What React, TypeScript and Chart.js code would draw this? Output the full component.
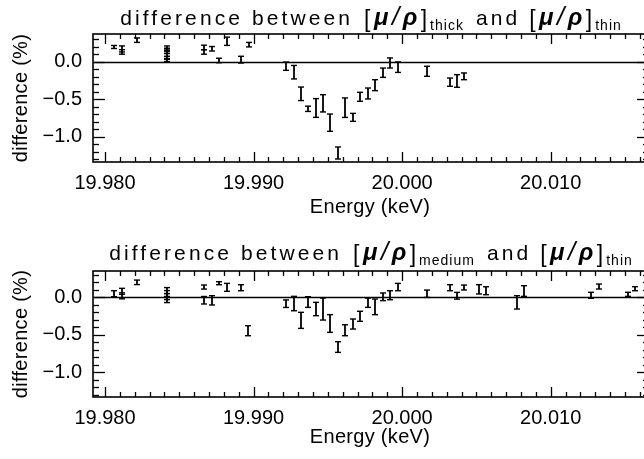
import React, { useEffect, useRef } from "react";
import { Chart, registerables } from "chart.js";

Chart.register(...registerables);

// ---------- data ----------
const X_TICKS = [19.98, 19.99, 20.0, 20.01];
const Y_TICKS = [-1.0, -0.5, 0.0];
const X_MINOR_STEP = 0.001;
const Y_MINOR_STEP = 0.1;
const X_RANGE = [19.97919, 20.01662];

const TITLE_WORDS = ["difference between", "and"];
const TITLE_SYMBOL = ["μ", "/", "ρ"];
const X_TITLE = "Energy (keV)";
const Y_TITLE = "difference (%)";

const THICK_ENERGY = [
  19.98063, 19.98114, 19.98114, 19.98213, 19.98415, 19.98415, 19.98415, 19.98415, 19.98415, 19.98415,
  19.98666, 19.98666, 19.98718, 19.98765, 19.98819, 19.98915, 19.98969,
  19.9922, 19.99272, 19.99319, 19.99368, 19.99418, 19.99467, 19.99516, 19.99566, 19.99615, 19.99667,
  19.99716, 19.99768, 19.99817, 19.99869, 19.99918, 19.9997,
  20.00169, 20.00322, 20.00371, 20.00418,
];
const THICK_DIFF = [
  0.196, 0.17, 0.13, 0.287, 0.02, 0.05, 0.09, 0.13, 0.16, 0.19,
  0.19, 0.13, 0.172, 0.016, 0.272, 0.027, 0.227,
  -0.06, -0.14, -0.428, -0.628, -0.617, -0.555, -0.813, -1.217, -0.613, -0.742,
  -0.468, -0.424, -0.313, -0.147, -0.017, -0.073,
  -0.128, -0.273, -0.257, -0.195,
];
const THICK_ERR = [
  0.02, 0.04, 0.03, 0.03, 0.02, 0.02, 0.02, 0.02, 0.02, 0.02,
  0.03, 0.03, 0.03, 0.03, 0.055, 0.045, 0.03,
  0.055, 0.09, 0.09, 0.035, 0.125, 0.115, 0.115, 0.08, 0.13, 0.053,
  0.06, 0.073, 0.073, 0.062, 0.067, 0.07,
  0.067, 0.055, 0.084, 0.045,
];

const MEDIUM_ENERGY = [
  19.98063, 19.98114, 19.98114, 19.98213, 19.98415, 19.98415, 19.98415, 19.98415,
  19.98666, 19.98666, 19.98718, 19.98765, 19.98819, 19.98915, 19.98965,
  19.9922, 19.99272, 19.99319, 19.99368, 19.99418, 19.99467, 19.99516, 19.99566, 19.99615, 19.99667,
  19.99716, 19.99768, 19.99817, 19.99869, 19.99918, 19.9997,
  20.00169, 20.00322, 20.00371, 20.00418, 20.00519, 20.00564, 20.00771, 20.0082,
  20.01269, 20.01325, 20.01518, 20.01567,
];
const MEDIUM_DIFF = [
  0.048, 0.08, 0.02, 0.2, 0.09, 0.05, 0.01, -0.03,
  0.137, -0.039, -0.04, 0.188, 0.133, 0.128, -0.445,
  -0.085, -0.083, -0.307, -0.063, -0.156, -0.156, -0.349, -0.663, -0.439, -0.356,
  -0.253, -0.072, -0.127, 0.007, 0.028, 0.137,
  0.048, 0.128, 0.021, 0.131, 0.107, 0.088, -0.067, 0.084,
  0.027, 0.144, 0.04, 0.115,
];
const MEDIUM_ERR = [
  0.04, 0.04, 0.04, 0.03, 0.04, 0.04, 0.04, 0.04,
  0.027, 0.05, 0.062, 0.02, 0.053, 0.04, 0.067,
  0.05, 0.096, 0.107, 0.071, 0.089, 0.147, 0.118, 0.071, 0.073, 0.067,
  0.067, 0.062, 0.104, 0.051, 0.06, 0.049,
  0.049, 0.04, 0.045, 0.033, 0.062, 0.053, 0.089, 0.071,
  0.04, 0.033, 0.027, 0.027,
];

// ---------- drawing ----------
const FAMILY = "'Liberation Sans', Arial, sans-serif";
const CANVAS_W = 652;

type Part = { t?: string; f?: string; dy?: number; ls?: string; gap?: number };

function symbolParts(sub: string): Part[] {
  return [
    { t: "[", f: `23px ${FAMILY}`, dy: 2, ls: "3.5px" },
    { t: TITLE_SYMBOL[0], f: `bold italic 24px ${FAMILY}`, ls: "3.5px" },
    { t: TITLE_SYMBOL[1], f: `italic 26px ${FAMILY}`, ls: "3.5px" },
    { t: TITLE_SYMBOL[2], f: `bold italic 24px ${FAMILY}`, ls: "3.5px" },
    { t: "]", f: `23px ${FAMILY}`, dy: 2, ls: "3px" },
    { t: sub, f: `14px ${FAMILY}`, dy: 5, ls: "1px" },
  ];
}

function drawTitle(ctx: CanvasRenderingContext2D, cx: number, baseline: number, sub1: string, sub2: string) {
  const base = `21px ${FAMILY}`;
  const parts: Part[] = [
    { t: TITLE_WORDS[0], f: base, ls: "3.1px" },
    { gap: 11 },
    ...symbolParts(sub1),
    { gap: 12 },
    { t: TITLE_WORDS[1], f: base, ls: "3.1px" },
    { gap: 9 },
    ...symbolParts(sub2),
  ];
  const widths = parts.map((p) => {
    if (p.gap !== undefined) return p.gap;
    ctx.font = p.f as string;
    (ctx as any).letterSpacing = p.ls || "0px";
    return ctx.measureText(p.t as string).width;
  });
  const total = widths.reduce((a, b) => a + b, 0);
  let x = cx - total / 2;
  ctx.fillStyle = "#000";
  ctx.textBaseline = "alphabetic";
  ctx.textAlign = "left";
  parts.forEach((p, i) => {
    if (p.t !== undefined) {
      ctx.font = p.f as string;
      (ctx as any).letterSpacing = p.ls || "0px";
      ctx.fillText(p.t, x, baseline + (p.dy || 0));
    }
    x += widths[i];
  });
  (ctx as any).letterSpacing = "0px";
}

function seg(ctx: CanvasRenderingContext2D, x1: number, y1: number, x2: number, y2: number) {
  ctx.beginPath();
  ctx.moveTo(x1, y1);
  ctx.lineTo(x2, y2);
  ctx.stroke();
}

const idlPlugin = {
  id: "idl",
  afterDatasetsDraw(chart: any) {
    const { ctx, chartArea: a, scales } = chart;
    const xs = scales.x;
    const ys = scales.y;
    ctx.save();
    ctx.strokeStyle = "#000";
    ctx.lineCap = "butt";

    // zero line
    const y0 = Math.round(ys.getPixelForValue(0)) + 0.5;
    ctx.lineWidth = 1.3;
    seg(ctx, a.left, y0, a.right, y0);

    // error bars
    chart.data.datasets.forEach((ds: any) => {
      ds.data.forEach((p: any, j: number) => {
        const e = ds.errors[j];
        const px = Math.round(xs.getPixelForValue(p.x));
        const yt = ys.getPixelForValue(p.y + e);
        const yb = ys.getPixelForValue(p.y - e);
        ctx.lineWidth = 1.8;
        seg(ctx, px, yt, px, yb);
        ctx.lineWidth = 1.4;
        seg(ctx, px - 3, yt, px + 3, yt);
        seg(ctx, px - 3, yb, px + 3, yb);
      });
    });

    // frame
    ctx.lineWidth = 1.6;
    ctx.strokeRect(a.left, a.top, a.right - a.left, a.bottom - a.top);

    // ticks (inward, on all four sides)
    ctx.lineWidth = 1.3;
    const [xmin, xmax] = [xs.min, xs.max];
    for (let m = Math.ceil(xmin / X_MINOR_STEP); m * X_MINOR_STEP <= xmax; m++) {
      const v = m * X_MINOR_STEP;
      const major = m % 10 === 0;
      const px = Math.round(xs.getPixelForValue(v)) + 0.5;
      const len = major ? 10 : 5;
      seg(ctx, px, a.bottom, px, a.bottom - len);
      seg(ctx, px, a.top, px, a.top + len);
    }
    for (let m = Math.ceil(ys.min / Y_MINOR_STEP - 1e-6); m * Y_MINOR_STEP <= ys.max + 1e-9; m++) {
      const v = m * Y_MINOR_STEP;
      const major = m % 5 === 0;
      const py = Math.round(ys.getPixelForValue(v)) + 0.5;
      const len = major ? 12 : 6;
      seg(ctx, a.left, py, a.left + len, py);
      seg(ctx, a.right, py, a.right - len, py);
    }
    ctx.restore();
  },
  afterDraw(chart: any, _args: any, opts: any) {
    const { ctx, chartArea: a } = chart;
    ctx.save();
    const cx = (a.left + a.right) / 2;
    drawTitle(ctx, cx, a.top - opts.titleGap, opts.sub1, opts.sub2);

    ctx.font = `20px ${FAMILY}`;
    ctx.fillStyle = "#000";
    ctx.textAlign = "center";
    ctx.textBaseline = "alphabetic";
    (ctx as any).letterSpacing = "0.3px";
    ctx.fillText(X_TITLE, cx - 1, a.bottom + opts.xTitleGap);

    ctx.translate(27, (a.top + a.bottom) / 2);
    ctx.rotate(-Math.PI / 2);
    ctx.fillText(Y_TITLE, 0, 0);
    ctx.restore();
  },
};

type PanelCfg = {
  energy: number[];
  diff: number[];
  err: number[];
  sub1: string;
  sub2: string;
  height: number;
  padTop: number;
  xAxisH: number;
  yRange: number[];
  titleGap: number;
  xTitleGap: number;
};

function fmtY(v: number): string {
  if (Math.abs(v) < 1e-9) return "0.0";
  return (v < 0 ? "\u2212" : "") + Math.abs(v).toFixed(1);
}

function Panel({ cfg, top }: { cfg: PanelCfg; top: number }) {
  const ref = useRef<HTMLCanvasElement>(null);
  useEffect(() => {
    const chart = new Chart(ref.current as HTMLCanvasElement, {
      type: "scatter",
      data: {
        datasets: [
          {
            data: cfg.energy.map((e, i) => ({ x: e, y: cfg.diff[i] })),
            errors: cfg.err,
            pointRadius: 0,
            showLine: false,
          } as any,
        ],
      },
      options: {
        animation: false,
        responsive: false,
        events: [],
        layout: { padding: { left: 0, right: CANVAS_W - 649, top: cfg.padTop, bottom: 0 } },
        plugins: {
          legend: { display: false },
          tooltip: { enabled: false },
          idl: { sub1: cfg.sub1, sub2: cfg.sub2, titleGap: cfg.titleGap, xTitleGap: cfg.xTitleGap },
        } as any,
        scales: {
          x: {
            type: "linear",
            min: X_RANGE[0],
            max: X_RANGE[1],
            grid: { display: false, drawTicks: false },
            border: { display: false },
            ticks: {
              color: "#000",
              font: { family: FAMILY, size: 20 },
              padding: 9,
              autoSkip: false,
              maxRotation: 0,
              callback: (v: any) => Number(v).toFixed(3),
            },
            afterBuildTicks: (s: any) => {
              s.ticks = X_TICKS.map((v) => ({ value: v }));
            },
            afterFit: (s: any) => {
              s.height = cfg.xAxisH;
            },
          },
          y: {
            type: "linear",
            min: cfg.yRange[0],
            max: cfg.yRange[1],
            grid: { display: false, drawTicks: false },
            border: { display: false },
            ticks: {
              color: "#000",
              font: { family: FAMILY, size: 20 },
              padding: 11,
              autoSkip: false,
              callback: (v: any) => fmtY(Number(v)),
            },
            afterBuildTicks: (s: any) => {
              s.ticks = Y_TICKS.map((v) => ({ value: v }));
            },
            afterFit: (s: any) => {
              s.width = 93;
            },
          },
        },
      } as any,
      plugins: [idlPlugin as any],
    });
    return () => chart.destroy();
  }, []);
  return (
    <canvas
      ref={ref}
      width={CANVAS_W}
      height={cfg.height}
      style={{ position: "absolute", left: 0, top, width: CANVAS_W, height: cfg.height }}
    />
  );
}

const THICK_PANEL: PanelCfg = {
  energy: THICK_ENERGY,
  diff: THICK_DIFF,
  err: THICK_ERR,
  sub1: "thick",
  sub2: "thin",
  height: 230,
  padTop: 34,
  xAxisH: 68,
  yRange: [-1.337, 0.369],
  titleGap: 9,
  xTitleGap: 51,
};

const MEDIUM_PANEL: PanelCfg = {
  energy: MEDIUM_ENERGY,
  diff: MEDIUM_DIFF,
  err: MEDIUM_ERR,
  sub1: "medium",
  sub2: "thin",
  height: 229,
  padTop: 41,
  xAxisH: 62,
  yRange: [-1.329, 0.351],
  titleGap: 11,
  xTitleGap: 46,
};

export default function App() {
  return (
    <div
      style={{
        position: "absolute",
        left: 0,
        top: 0,
        width: 644,
        height: 459,
        overflow: "hidden",
        background: "#fff",
      }}
    >
      <Panel cfg={THICK_PANEL} top={0} />
      <Panel cfg={MEDIUM_PANEL} top={230} />
    </div>
  );
}
